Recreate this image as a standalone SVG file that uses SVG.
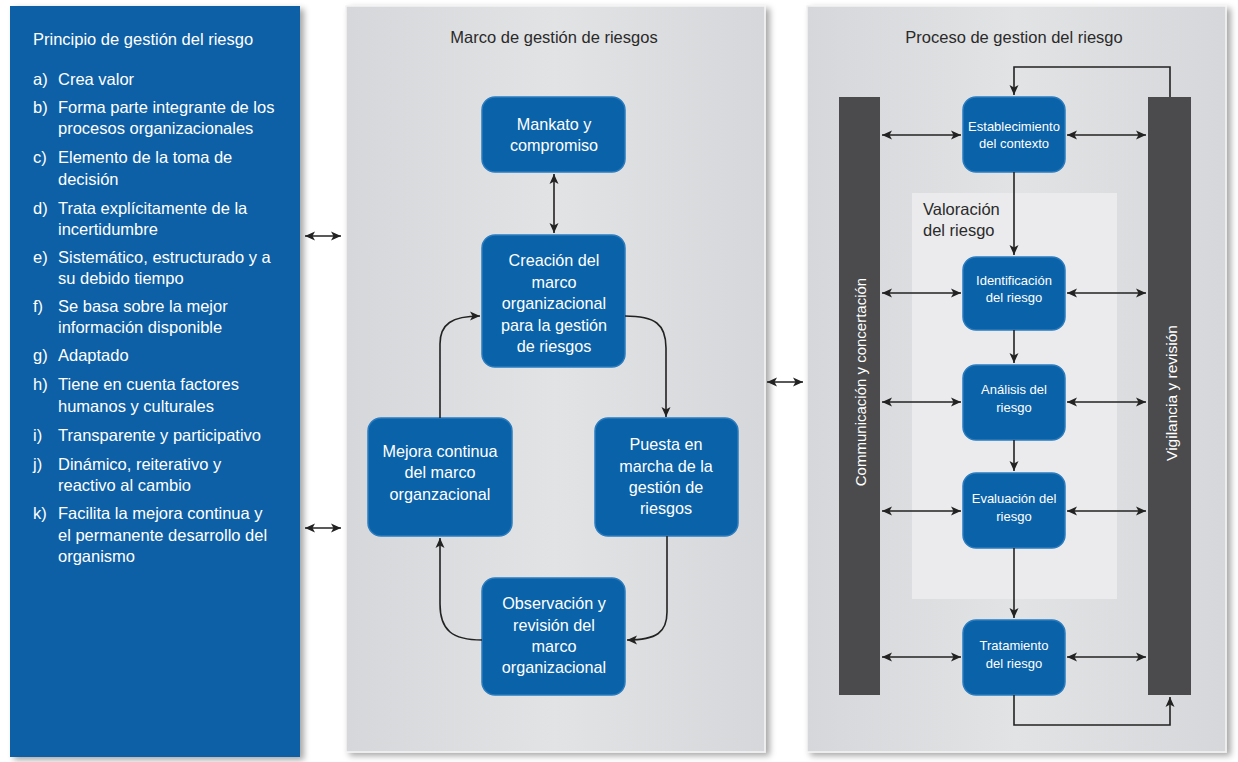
<svg xmlns="http://www.w3.org/2000/svg" width="1238" height="762" viewBox="0 0 1238 762">
<defs>
<style>
text{font-family:"Liberation Sans",Arial,sans-serif;}
.lt{fill:#ffffff;font-size:16.5px;}
.nt{fill:#ffffff;font-size:16.2px;text-anchor:middle;}
.st{fill:#ffffff;font-size:13px;text-anchor:middle;}
.tt{fill:#2a2a2a;font-size:16.5px;text-anchor:middle;}
.node{fill:#0a62a9;stroke:#2a7cc0;stroke-width:1.5;}
.con{fill:none;stroke:#222222;stroke-width:1.6;}
.bar{fill:#4b4b4d;}
</style>
<marker id="ah" viewBox="0 0 10 10" refX="10" refY="5" markerWidth="10" markerHeight="10" markerUnits="userSpaceOnUse" orient="auto-start-reverse">
<path d="M0,0.5 L10,5 L0,9.5 L2.5,5 z" fill="#222222"/>
</marker>
<filter id="sh" x="-5%" y="-5%" width="115%" height="115%">
<feDropShadow dx="4" dy="3" stdDeviation="3" flood-color="#000000" flood-opacity="0.35"/>
</filter>
<linearGradient id="pg" x1="0" y1="0" x2="1" y2="0">
<stop offset="0" stop-color="#d6d7da"/>
<stop offset="0.5" stop-color="#e2e3e5"/>
<stop offset="1" stop-color="#d6d7da"/>
</linearGradient>
</defs>
<rect x="0" y="0" width="1238" height="762" fill="#ffffff"/>

<g id="panel-principios">
<rect x="10" y="6" width="290" height="751" fill="#0b5fa6" filter="url(#sh)"/>
<text class="lt" x="33" y="45">Principio de gestión del riesgo</text>
<text class="lt" x="33" y="85">a)</text><text class="lt" x="58" y="85">Crea valor</text>
<text class="lt" x="33" y="113">b)</text><text class="lt" x="58" y="113">Forma parte integrante de los</text>
<text class="lt" x="58" y="134">procesos organizacionales</text>
<text class="lt" x="33" y="163">c)</text><text class="lt" x="58" y="163">Elemento de la toma de</text>
<text class="lt" x="58" y="185">decisión</text>
<text class="lt" x="33" y="214">d)</text><text class="lt" x="58" y="214">Trata explícitamente de la</text>
<text class="lt" x="58" y="235">incertidumbre</text>
<text class="lt" x="33" y="263">e)</text><text class="lt" x="58" y="263">Sistemático, estructurado y a</text>
<text class="lt" x="58" y="284">su debido tiempo</text>
<text class="lt" x="33" y="312">f)</text><text class="lt" x="58" y="312">Se basa sobre la mejor</text>
<text class="lt" x="58" y="333">información disponible</text>
<text class="lt" x="33" y="361">g)</text><text class="lt" x="58" y="361">Adaptado</text>
<text class="lt" x="33" y="390">h)</text><text class="lt" x="58" y="390">Tiene en cuenta factores</text>
<text class="lt" x="58" y="412">humanos y culturales</text>
<text class="lt" x="33" y="441">i)</text><text class="lt" x="58" y="441">Transparente y participativo</text>
<text class="lt" x="33" y="470">j)</text><text class="lt" x="58" y="470">Dinámico, reiterativo y</text>
<text class="lt" x="58" y="491">reactivo al cambio</text>
<text class="lt" x="33" y="519">k)</text><text class="lt" x="58" y="519">Facilita la mejora continua y</text>
<text class="lt" x="58" y="541">el permanente desarrollo del</text>
<text class="lt" x="58" y="562">organismo</text>
</g>

<g id="panel-marco">
<rect x="346" y="6" width="419" height="746" fill="url(#pg)" stroke="#f4f4f4" stroke-width="1.5" filter="url(#sh)"/>
<text class="tt" x="554" y="43">Marco de gestión de riesgos</text>
</g>

<g id="panel-proceso">
<rect x="807" y="6" width="419" height="746" fill="url(#pg)" stroke="#f4f4f4" stroke-width="1.5" filter="url(#sh)"/>
<text class="tt" x="1014" y="43">Proceso de gestion del riesgo</text>
<rect id="valoracion" x="912" y="193" width="205" height="406" fill="#ebebed"/>
<text x="923" y="215" font-size="16.5" fill="#2a2a2a">Valoración</text>
<text x="923" y="236" font-size="16.5" fill="#2a2a2a">del riesgo</text>
</g>

<g id="bar-comunicacion">
<rect class="bar" x="839" y="97" width="41" height="598"/>
<text x="860" y="382" font-size="15" fill="#ffffff" text-anchor="middle" dominant-baseline="central" transform="rotate(-90 860 382)">Communicación y concertación</text>
</g>
<g id="bar-vigilancia">
<rect class="bar" x="1148" y="97" width="43" height="598"/>
<text x="1171" y="393" font-size="15.5" fill="#ffffff" text-anchor="middle" dominant-baseline="central" transform="rotate(-90 1171 393)">Vigilancia y revisión</text>
</g>

<g id="n-mandato">
<rect class="node" x="482" y="97" width="143" height="75" rx="13"/>
<text class="nt" x="554" y="130">Mankato y</text>
<text class="nt" x="554" y="151">compromiso</text>
</g>
<g id="n-creacion">
<rect class="node" x="482" y="235" width="143" height="132" rx="13"/>
<text class="nt" x="554" y="266">Creación del</text>
<text class="nt" x="554" y="288">marco</text>
<text class="nt" x="554" y="309">organizacional</text>
<text class="nt" x="554" y="331">para la gestión</text>
<text class="nt" x="554" y="352">de riesgos</text>
</g>
<g id="n-mejora">
<rect class="node" x="368" y="418" width="144" height="118" rx="13"/>
<text class="nt" x="440" y="457">Mejora continua</text>
<text class="nt" x="440" y="478">del marco</text>
<text class="nt" x="440" y="500">organzacional</text>
</g>
<g id="n-puesta">
<rect class="node" x="595" y="418" width="143" height="118" rx="13"/>
<text class="nt" x="666" y="450">Puesta en</text>
<text class="nt" x="666" y="472">marcha de la</text>
<text class="nt" x="666" y="493">gestión de</text>
<text class="nt" x="666" y="514">riesgos</text>
</g>
<g id="n-observacion">
<rect class="node" x="482" y="578" width="143" height="117" rx="13"/>
<text class="nt" x="554" y="609">Observación y</text>
<text class="nt" x="554" y="631">revisión del</text>
<text class="nt" x="554" y="652">marco</text>
<text class="nt" x="554" y="673">organizacional</text>
</g>

<g id="n-contexto">
<rect class="node" x="963" y="97" width="102" height="75" rx="13"/>
<text class="st" x="1014" y="131">Establecimiento</text>
<text class="st" x="1014" y="148">del contexto</text>
</g>
<g id="n-identificacion">
<rect class="node" x="963" y="257" width="102" height="73" rx="13"/>
<text class="st" x="1014" y="285">Identificación</text>
<text class="st" x="1014" y="302">del riesgo</text>
</g>
<g id="n-analisis">
<rect class="node" x="963" y="365" width="102" height="75" rx="13"/>
<text class="st" x="1014" y="394">Análisis del</text>
<text class="st" x="1014" y="412">riesgo</text>
</g>
<g id="n-evaluacion">
<rect class="node" x="963" y="473" width="102" height="75" rx="13"/>
<text class="st" x="1014" y="503">Evaluación del</text>
<text class="st" x="1014" y="521">riesgo</text>
</g>
<g id="n-tratamiento">
<rect class="node" x="963" y="620" width="102" height="75" rx="13"/>
<text class="st" x="1014" y="650">Tratamiento</text>
<text class="st" x="1014" y="668">del riesgo</text>
</g>

<g id="connectors">
<line class="con" x1="305" y1="236" x2="341" y2="236" marker-start="url(#ah)" marker-end="url(#ah)"/>
<line class="con" x1="305" y1="528" x2="341" y2="528" marker-start="url(#ah)" marker-end="url(#ah)"/>
<line class="con" x1="767" y1="382" x2="803" y2="382" marker-start="url(#ah)" marker-end="url(#ah)"/>

<line class="con" x1="554" y1="174" x2="554" y2="233" marker-start="url(#ah)" marker-end="url(#ah)"/>
<path class="con" d="M625,316 C655,316 666,324 666,348 V417" marker-end="url(#ah)"/>
<path class="con" d="M667,536 V612 C667,632 657,640 627,640" marker-end="url(#ah)"/>
<path class="con" d="M482,640 C452,640 440,630 440,604 V538" marker-end="url(#ah)"/>
<path class="con" d="M440,418 V344 C440,324 452,316 480,316" marker-end="url(#ah)"/>

<polyline class="con" points="1170,97 1170,67 1014,67 1014,95" marker-end="url(#ah)"/>
<line class="con" x1="1014" y1="172" x2="1014" y2="255" marker-end="url(#ah)"/>
<line class="con" x1="1014" y1="330" x2="1014" y2="363" marker-end="url(#ah)"/>
<line class="con" x1="1014" y1="440" x2="1014" y2="471" marker-end="url(#ah)"/>
<line class="con" x1="1014" y1="548" x2="1014" y2="618" marker-end="url(#ah)"/>
<polyline class="con" points="1014,695 1014,725 1170,725 1170,697" marker-end="url(#ah)"/>

<line class="con" x1="882" y1="135" x2="961" y2="135" marker-start="url(#ah)" marker-end="url(#ah)"/>
<line class="con" x1="1067" y1="135" x2="1146" y2="135" marker-start="url(#ah)" marker-end="url(#ah)"/>
<line class="con" x1="882" y1="293" x2="961" y2="293" marker-start="url(#ah)" marker-end="url(#ah)"/>
<line class="con" x1="1067" y1="293" x2="1146" y2="293" marker-start="url(#ah)" marker-end="url(#ah)"/>
<line class="con" x1="882" y1="402" x2="961" y2="402" marker-start="url(#ah)" marker-end="url(#ah)"/>
<line class="con" x1="1067" y1="402" x2="1146" y2="402" marker-start="url(#ah)" marker-end="url(#ah)"/>
<line class="con" x1="882" y1="511" x2="961" y2="511" marker-start="url(#ah)" marker-end="url(#ah)"/>
<line class="con" x1="1067" y1="511" x2="1146" y2="511" marker-start="url(#ah)" marker-end="url(#ah)"/>
<line class="con" x1="882" y1="657" x2="961" y2="657" marker-start="url(#ah)" marker-end="url(#ah)"/>
<line class="con" x1="1067" y1="657" x2="1146" y2="657" marker-start="url(#ah)" marker-end="url(#ah)"/>
</g>
</svg>
